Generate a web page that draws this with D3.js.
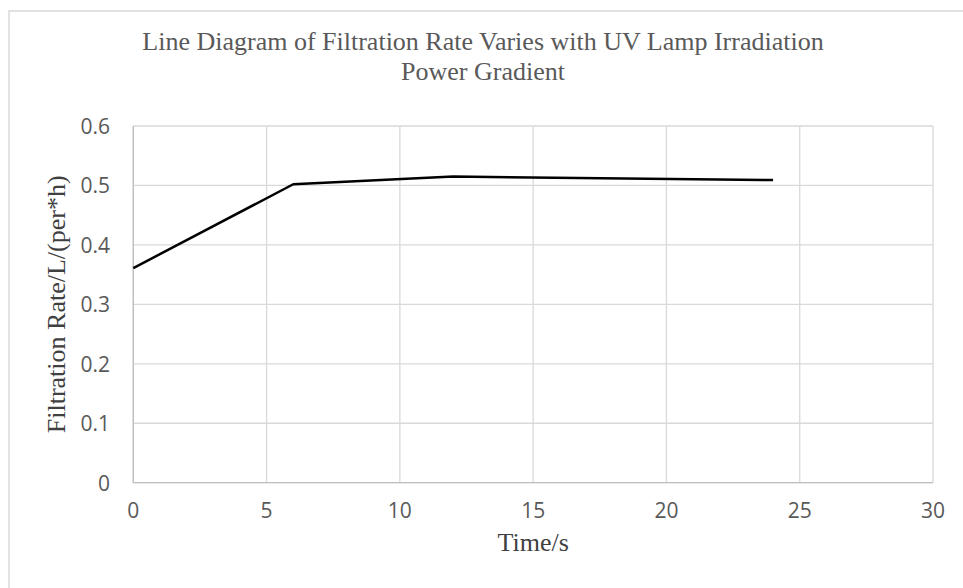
<!DOCTYPE html>
<html>
<head>
<meta charset="utf-8">
<script src="https://cdn.jsdelivr.net/npm/d3@7"></script>
<style>
body { margin: 0; background: #fff; }
</style>
</head>
<body>
<svg id="chart"></svg>
<script>
var times = [0, 6, 12, 24];
var rates = [0.361, 0.502, 0.515, 0.509];
var xTicks = [0, 5, 10, 15, 20, 25, 30];
var yTicks = [0, 0.1, 0.2, 0.3, 0.4, 0.5, 0.6];
var titleLines = ["Line Diagram of Filtration Rate Varies with UV Lamp Irradiation", "Power Gradient"];

var W = 963, H = 588;
var plotL = 133.3, plotR = 933, plotT = 126, plotB = 482.7;

var svg = d3.select("#chart").attr("width", W).attr("height", H);

// chart frame (only top/left edges show in the picture)
svg.append("rect")
    .attr("x", 9).attr("y", 11)
    .attr("width", W + 20).attr("height", H + 20)
    .attr("fill", "#fff")
    .attr("stroke", "#d9d9d9")
    .attr("stroke-width", 1.5);

var x = d3.scaleLinear().domain([0, 30]).range([plotL, plotR]);
var y = d3.scaleLinear().domain([0, 0.6]).range([plotB, plotT]);

// gridlines
svg.append("g").selectAll("line")
    .data(yTicks)
    .enter().append("line")
    .attr("x1", plotL).attr("x2", plotR)
    .attr("y1", function(d){ return y(d); })
    .attr("y2", function(d){ return y(d); })
    .attr("stroke", "#d9d9d9")
    .attr("stroke-width", 1.3);

svg.append("g").selectAll("line")
    .data(xTicks)
    .enter().append("line")
    .attr("y1", plotT).attr("y2", plotB)
    .attr("x1", function(d){ return x(d); })
    .attr("x2", function(d){ return x(d); })
    .attr("stroke", "#d9d9d9")
    .attr("stroke-width", 1.3);

// axis lines
svg.append("line")
    .attr("x1", plotL).attr("x2", plotR)
    .attr("y1", plotB).attr("y2", plotB)
    .attr("stroke", "#bfbfbf").attr("stroke-width", 1.3);
svg.append("line")
    .attr("x1", plotL).attr("x2", plotL)
    .attr("y1", plotT).attr("y2", plotB)
    .attr("stroke", "#bfbfbf").attr("stroke-width", 1.3);

// tick labels
svg.append("g").selectAll("text")
    .data(xTicks)
    .enter().append("text")
    .attr("x", function(d){ return x(d); })
    .attr("y", plotB + 35)
    .attr("text-anchor", "middle")
    .attr("font-family", "'Open Sans', 'Noto Sans', sans-serif")
    .attr("font-size", 21)
    .attr("fill", "#595959")
    .text(function(d){ return d; });

svg.append("g").selectAll("text")
    .data(yTicks)
    .enter().append("text")
    .attr("x", 110)
    .attr("y", function(d){ return y(d) + 8; })
    .attr("text-anchor", "end")
    .attr("font-family", "'Open Sans', 'Noto Sans', sans-serif")
    .attr("font-size", 21)
    .attr("fill", "#595959")
    .text(function(d){ return d === 0 ? "0" : d3.format(".1f")(d); });

// data line
var line = d3.line()
    .x(function(d, i){ return x(times[i]); })
    .y(function(d){ return y(d); });

svg.append("path")
    .datum(rates)
    .attr("d", line)
    .attr("fill", "none")
    .attr("stroke", "#000")
    .attr("stroke-width", 2.5)
    .attr("stroke-linejoin", "round");

// title
svg.append("g").selectAll("text")
    .data(titleLines)
    .enter().append("text")
    .attr("x", 483)
    .attr("y", function(d, i){ return 50 + i * 30; })
    .attr("text-anchor", "middle")
    .attr("font-family", "'Liberation Serif', 'Times New Roman', serif")
    .attr("font-size", 26)
    .attr("fill", "#595959")
    .text(function(d){ return d; });

// axis titles
svg.append("text")
    .attr("x", (plotL + plotR) / 2)
    .attr("y", 551)
    .attr("text-anchor", "middle")
    .attr("font-family", "'Liberation Serif', 'Times New Roman', serif")
    .attr("font-size", 26)
    .attr("fill", "#404040")
    .text("Time/s");

svg.append("text")
    .attr("transform", "translate(65," + ((plotT + plotB) / 2) + ") rotate(-90)")
    .attr("text-anchor", "middle")
    .attr("font-family", "'Liberation Serif', 'Times New Roman', serif")
    .attr("font-size", 26)
    .attr("fill", "#404040")
    .text("Filtration Rate/L/(per*h)");
</script>
</body>
</html>
